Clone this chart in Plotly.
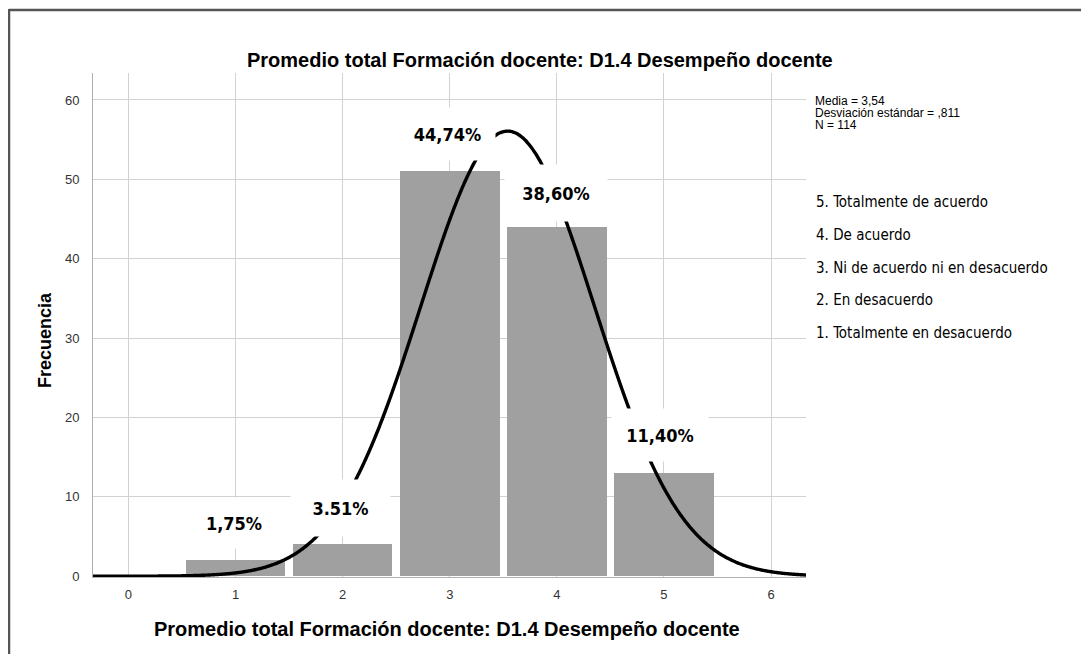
import numpy as np
import plotly.graph_objects as go

# ---- data ----
categories = [1, 2, 3, 4, 5]
frequencies = [2, 4, 51, 44, 13]
pct_labels = ["1,75%", "3.51%", "44,74%", "38,60%", "11,40%"]
legend_lines = ["5. Totalmente de acuerdo", "4. De acuerdo",
                "3. Ni de acuerdo ni en desacuerdo", "2. En desacuerdo",
                "1. Totalmente en desacuerdo"]
stat_lines = ["Media = 3,54", "Desviación estándar = ,811", "N = 114"]
mean_val = 3.54
sd_val = 0.811
n_val = 114
x_ticks = [0, 1, 2, 3, 4, 5, 6]
y_ticks = [0, 10, 20, 30, 40, 50, 60]
title_text = "Promedio total Formación docente: D1.4 Desempeño docente"

# ---- geometry (reference pixels; page body has an 8px margin) ----
OFF = 8
W, H = 1089 - OFF, 654 - OFF
L, R, T, B = 93, 806, 73, 577
XR = [-0.331, 6.326]
YR = [-0.1, 63.4]

def px(xpix):
    return (xpix - L) / (R - L)

def py(ypix):
    return (B - ypix) / (B - T)

fig = go.Figure()
fig.add_trace(go.Bar(x=categories, y=frequencies, width=0.93,
                     marker=dict(color="#a0a0a0", line=dict(width=0)),
                     hoverinfo="skip"))

xc = np.linspace(XR[0], XR[1], 600)
yc = n_val * 1.0 * np.exp(-0.5 * ((xc - mean_val) / sd_val) ** 2) / (sd_val * np.sqrt(2 * np.pi))
fig.add_trace(go.Scatter(x=xc, y=yc, mode="lines",
                         line=dict(color="black", width=3.4, shape="spline"), hoverinfo="skip"))

narrow = "Liberation Sans Narrow, Arial Narrow, DejaVu Sans Condensed, sans-serif"
arial = "Liberation Sans, Arial, sans-serif"

annotations = []
boxes = [(234, 523, 98, 50), (340, 508, 99, 56), (447, 134, 95, 52),
         (556, 193, 102, 56), (660, 435, 96, 52)]
for lab, (cx, cy, bw, bh) in zip(pct_labels, boxes):
    annotations.append(dict(x=px(cx), y=py(cy), xref="paper", yref="paper",
                            text=f"<b>{lab}</b>", showarrow=False,
                            font=dict(family=narrow, size=18, color="black"),
                            bgcolor="white", width=bw, height=bh,
                            xanchor="center", yanchor="middle", borderpad=0))

annotations.append(dict(x=px(540), y=py(60), xref="paper", yref="paper",
                        text=f"<b>{title_text}</b>", showarrow=False,
                        font=dict(family=arial, size=20, color="black"),
                        xanchor="center", yanchor="middle"))
annotations.append(dict(x=px(447), y=py(629), xref="paper", yref="paper",
                        text=f"<b>{title_text}</b>", showarrow=False,
                        font=dict(family=arial, size=20, color="black"),
                        xanchor="center", yanchor="middle"))
annotations.append(dict(x=px(45), y=py(340), xref="paper", yref="paper",
                        text="<b>Frecuencia</b>", showarrow=False, textangle=-90,
                        font=dict(family=arial, size=18, color="black"),
                        xanchor="center", yanchor="middle"))
for i, line in enumerate(stat_lines):
    annotations.append(dict(x=px(814), y=py(101 + 12.2 * i), xref="paper", yref="paper",
                            text=line, showarrow=False, align="left",
                            font=dict(family=arial, size=12, color="black"),
                            xanchor="left", yanchor="middle", borderpad=0))
for i, line in enumerate(legend_lines):
    annotations.append(dict(x=px(814), y=py(202 + 32.8 * i), xref="paper", yref="paper",
                            text=line, showarrow=False, align="left",
                            font=dict(family=narrow, size=15, color="black"),
                            xanchor="left", yanchor="middle"))

shapes = [
    dict(type="line", xref="paper", yref="paper", x0=px(9), x1=px(1100), y0=py(10), y1=py(10),
         line=dict(color="#555555", width=2.5)),
    dict(type="line", xref="paper", yref="paper", x0=px(9), x1=px(9), y0=py(9), y1=py(670),
         line=dict(color="#555555", width=2.5)),
]

fig.update_layout(
    width=W, height=H, autosize=False,
    margin=dict(l=L - OFF, r=W - (R - OFF), t=T - OFF, b=H - (B - OFF), pad=0),
    paper_bgcolor="white", plot_bgcolor="white",
    showlegend=False, bargap=0,
    annotations=annotations, shapes=shapes,
    xaxis=dict(range=XR, tickvals=x_ticks, ticktext=[str(v) for v in x_ticks],
               showgrid=True, gridcolor="#d2d2d2", gridwidth=1, zeroline=False,
               showline=True, linecolor="#b0b0b0", linewidth=1, ticks="",
               tickfont=dict(family=arial, size=13, color="#333333"), ticklabelstandoff=5),
    yaxis=dict(range=YR, tickvals=y_ticks, ticktext=[str(v) for v in y_ticks],
               showgrid=True, gridcolor="#d2d2d2", gridwidth=1, zeroline=False,
               showline=True, linecolor="#b0b0b0", linewidth=1, ticks="",
               tickfont=dict(family=arial, size=13, color="#333333"), ticklabelstandoff=10),
)

fig.write_html("out.html")
